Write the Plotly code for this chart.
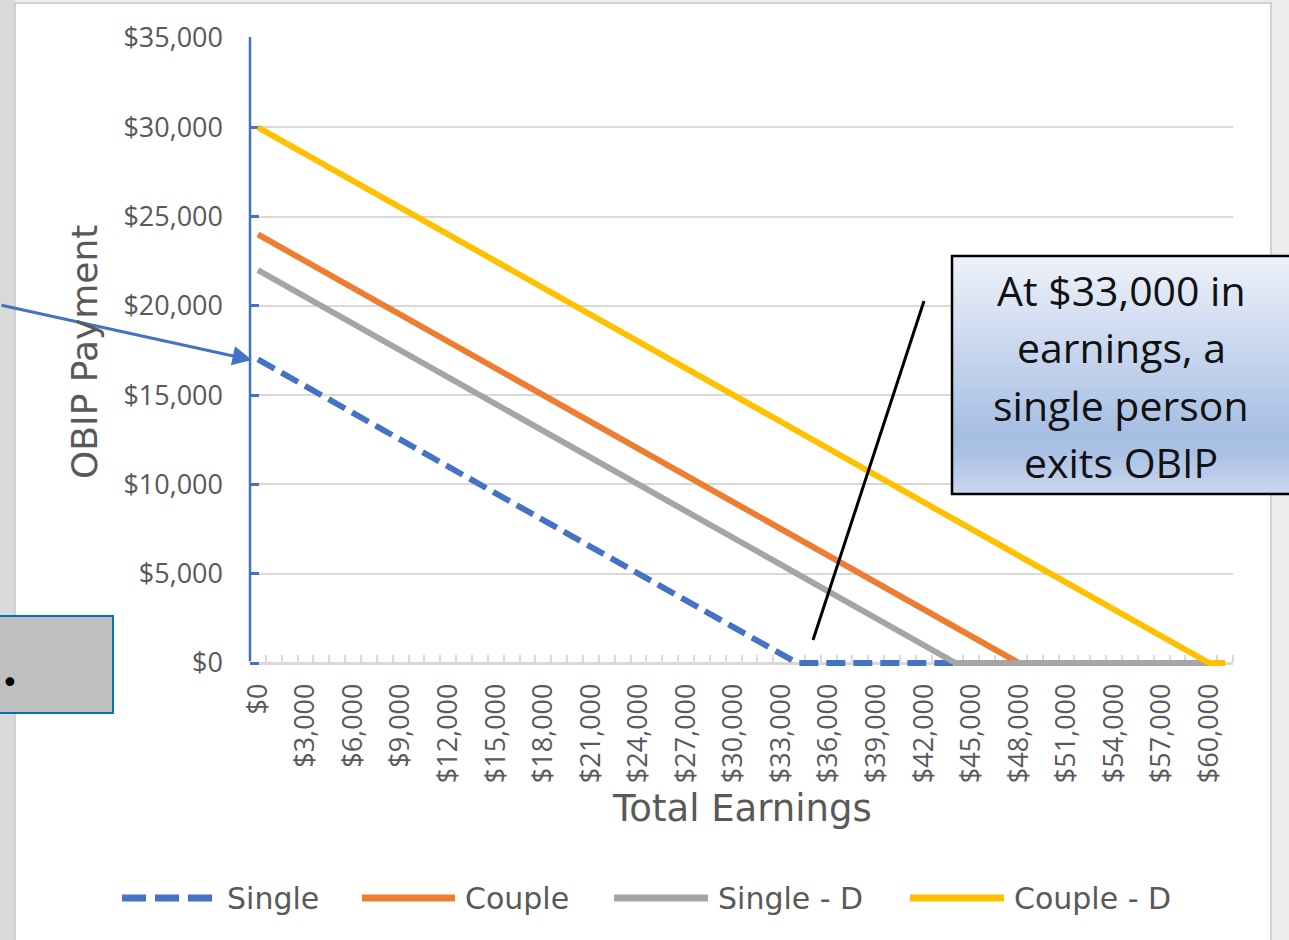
import plotly.graph_objects as go

# ---------------------------------------------------------------------------
# Data: OBIP payment by total earnings (earnings in $1,000 steps)
# ---------------------------------------------------------------------------
earnings = [
    0, 1000, 2000, 3000, 4000, 5000, 6000, 7000, 8000, 9000,
    10000, 11000, 12000, 13000, 14000, 15000, 16000, 17000, 18000, 19000,
    20000, 21000, 22000, 23000, 24000, 25000, 26000, 27000, 28000, 29000,
    30000, 31000, 32000, 33000, 34000, 35000, 36000, 37000, 38000, 39000,
    40000, 41000, 42000, 43000, 44000, 45000, 46000, 47000, 48000, 49000,
    50000, 51000, 52000, 53000, 54000, 55000, 56000, 57000, 58000, 59000,
    60000, 61000,
]

single = [
    17000, 16500, 16000, 15500, 15000, 14500, 14000, 13500, 13000, 12500,
    12000, 11500, 11000, 10500, 10000, 9500, 9000, 8500, 8000, 7500,
    7000, 6500, 6000, 5500, 5000, 4500, 4000, 3500, 3000, 2500,
    2000, 1500, 1000, 500, 0, 0, 0, 0, 0, 0,
    0, 0, 0, 0, 0, 0, 0, 0, 0, 0,
    0, 0, 0, 0, 0, 0, 0, 0, 0, 0,
    0, 0,
]

couple = [
    24000, 23500, 23000, 22500, 22000, 21500, 21000, 20500, 20000, 19500,
    19000, 18500, 18000, 17500, 17000, 16500, 16000, 15500, 15000, 14500,
    14000, 13500, 13000, 12500, 12000, 11500, 11000, 10500, 10000, 9500,
    9000, 8500, 8000, 7500, 7000, 6500, 6000, 5500, 5000, 4500,
    4000, 3500, 3000, 2500, 2000, 1500, 1000, 500, 0, 0,
    0, 0, 0, 0, 0, 0, 0, 0, 0, 0,
    0, 0,
]

single_d = [
    22000, 21500, 21000, 20500, 20000, 19500, 19000, 18500, 18000, 17500,
    17000, 16500, 16000, 15500, 15000, 14500, 14000, 13500, 13000, 12500,
    12000, 11500, 11000, 10500, 10000, 9500, 9000, 8500, 8000, 7500,
    7000, 6500, 6000, 5500, 5000, 4500, 4000, 3500, 3000, 2500,
    2000, 1500, 1000, 500, 0, 0, 0, 0, 0, 0,
    0, 0, 0, 0, 0, 0, 0, 0, 0, 0,
    0, 0,
]

couple_d = [
    30000, 29500, 29000, 28500, 28000, 27500, 27000, 26500, 26000, 25500,
    25000, 24500, 24000, 23500, 23000, 22500, 22000, 21500, 21000, 20500,
    20000, 19500, 19000, 18500, 18000, 17500, 17000, 16500, 16000, 15500,
    15000, 14500, 14000, 13500, 13000, 12500, 12000, 11500, 11000, 10500,
    10000, 9500, 9000, 8500, 8000, 7500, 7000, 6500, 6000, 5500,
    5000, 4500, 4000, 3500, 3000, 2500, 2000, 1500, 1000, 500,
    0, 0,
]

series_names = ["Single", "Couple", "Single - D", "Couple - D"]
series_values = [single, couple, single_d, couple_d]
series_colors = ["#4472C4", "#ED7D31", "#A5A5A5", "#FFC000"]
series_dashed = [True, False, False, False]

x_tick_values = [0, 3000, 6000, 9000, 12000, 15000, 18000, 21000, 24000, 27000,
                 30000, 33000, 36000, 39000, 42000, 45000, 48000, 51000, 54000,
                 57000, 60000]
x_tick_labels = ["$0", "$3,000", "$6,000", "$9,000", "$12,000", "$15,000",
                 "$18,000", "$21,000", "$24,000", "$27,000", "$30,000",
                 "$33,000", "$36,000", "$39,000", "$42,000", "$45,000",
                 "$48,000", "$51,000", "$54,000", "$57,000", "$60,000"]
y_tick_values = [0, 5000, 10000, 15000, 20000, 25000, 30000, 35000]
y_tick_labels = ["$0", "$5,000", "$10,000", "$15,000", "$20,000", "$25,000",
                 "$30,000", "$35,000"]

x_title = "Total Earnings"
y_title = "OBIP Payment"
callout_lines = ["At $33,000 in", "earnings, a", "single person", "exits OBIP"]

# ---------------------------------------------------------------------------
# Page geometry helpers (pixel -> paper fraction)
# ---------------------------------------------------------------------------
W, H = 1289, 940


def fx(p):
    return p / W


def fy(p):
    return 1 - p / H


PLOT_LEFT, PLOT_RIGHT = 250, 1233
Y_TOP_PX, Y_ZERO_PX = 38, 663
Y_MAX = 35000
Y_PAD = 180  # a little room below zero so lines lying on the axis are not clipped
y_bottom_px = Y_ZERO_PX + Y_PAD * (Y_ZERO_PX - Y_TOP_PX) / Y_MAX

AXIS_TEXT = "#595959"
ARIAL_LIKE = "DejaVu Sans"
TICK_FONT = dict(family="Open Sans", size=27, color=AXIS_TEXT)

fig = go.Figure()

for name, vals, color, dashed in zip(series_names, series_values, series_colors, series_dashed):
    fig.add_trace(go.Scatter(
        x=earnings, y=vals, name=name, mode="lines",
        line=dict(color=color, width=6, dash="19px,8px" if dashed else "solid"),
        showlegend=False, hoverinfo="skip",
    ))

shapes = []
annotations = []

# slide background strips and the white chart panel
shapes.append(dict(type="rect", xref="paper", yref="paper", layer="below",
                   x0=fx(0), x1=fx(15), y0=fy(-5), y1=fy(945),
                   fillcolor="#D9D9D9", line=dict(width=0)))
shapes.append(dict(type="rect", xref="paper", yref="paper", layer="below",
                   x0=fx(15), x1=fx(1271), y0=fy(3), y1=fy(950),
                   fillcolor="#FFFFFF", line=dict(color="#D0D0D0", width=2)))

# vertical value axis line
shapes.append(dict(type="line", xref="paper", yref="paper", layer="above",
                   x0=fx(PLOT_LEFT), x1=fx(PLOT_LEFT), y0=fy(Y_ZERO_PX - 2), y1=fy(Y_TOP_PX - 1),
                   line=dict(color="#4472C4", width=2.5)))

# partially visible text box on the left edge
shapes.append(dict(type="rect", xref="paper", yref="paper", layer="above",
                   x0=fx(-5), x1=fx(113), y0=fy(616), y1=fy(713),
                   fillcolor="#BFBFBF", line=dict(color="#0070C0", width=2)))
annotations.append(dict(xref="paper", yref="paper", x=fx(10), y=fy(682),
                        text="•", showarrow=False, xanchor="center", yanchor="middle",
                        font=dict(family="DejaVu Sans", size=30, color="#000000")))

# arrow pointing at the start of the Single series
annotations.append(dict(xref="paper", yref="paper", x=fx(252), y=fy(360),
                        ax=-252, ay=-55, axref="pixel", ayref="pixel",
                        text="", showarrow=True, arrowhead=2, arrowsize=1.3,
                        arrowwidth=3, arrowcolor="#4472C4", standoff=0))

# callout leader line
shapes.append(dict(type="line", xref="paper", yref="paper", layer="above",
                   x0=fx(924), y0=fy(301), x1=fx(813), y1=fy(640),
                   line=dict(color="#000000", width=3)))

# callout box with a vertical light-to-blue gradient
bx0, bx1, by0, by1 = 952, 1295, 256, 494
grad_stops = [(0.0, (238, 242, 250)), (0.74, (167, 191, 228)),
              (0.83, (170, 193, 229)), (1.0, (203, 215, 238))]


def grad_color(t):
    for (t0, c0), (t1, c1) in zip(grad_stops[:-1], grad_stops[1:]):
        if t <= t1:
            u = (t - t0) / (t1 - t0) if t1 > t0 else 0
            return "rgb(%d,%d,%d)" % tuple(round(a + (b - a) * u) for a, b in zip(c0, c1))
    return "rgb(%d,%d,%d)" % grad_stops[-1][1]


n_strips = 60
strip_h = (by1 - by0) / n_strips
for i in range(n_strips):
    t = (i + 0.5) / n_strips
    shapes.append(dict(type="rect", xref="paper", yref="paper", layer="above",
                       x0=fx(bx0), x1=fx(bx1),
                       y0=fy(by0 + i * strip_h), y1=fy(min(by1, by0 + (i + 1) * strip_h + 0.8)),
                       fillcolor=grad_color(t), line=dict(width=0)))
shapes.append(dict(type="rect", xref="paper", yref="paper", layer="above",
                   x0=fx(bx0), x1=fx(bx1), y0=fy(by0), y1=fy(by1),
                   fillcolor="rgba(0,0,0,0)", line=dict(color="#000000", width=2.5)))

line_centers = [290, 347, 405, 462]
for txt, yc in zip(callout_lines, line_centers):
    annotations.append(dict(xref="paper", yref="paper", x=fx(1121), y=fy(yc),
                            text=txt, showarrow=False, xanchor="center", yanchor="middle",
                            font=dict(family="Open Sans", size=41, color="#111111")))

# axis titles
annotations.append(dict(xref="paper", yref="paper", x=fx(84), y=fy(352),
                        text=y_title, textangle=-90, showarrow=False,
                        xanchor="center", yanchor="middle",
                        font=dict(family=ARIAL_LIKE, size=36, color=AXIS_TEXT)))
annotations.append(dict(xref="paper", yref="paper", x=fx(742), y=fy(808),
                        text=x_title, showarrow=False,
                        xanchor="center", yanchor="middle",
                        font=dict(family=ARIAL_LIKE, size=37, color=AXIS_TEXT)))

# legend drawn along the bottom
legend_y = 898
legend_items = [(122, 213, 225), (362, 455, 463), (614, 708, 716), (910, 1004, 1012)]
for (sx0, sx1, tx), name, color, dashed in zip(legend_items, series_names, series_colors, series_dashed):
    shapes.append(dict(type="line", xref="paper", yref="paper", layer="above",
                       x0=fx(sx0), x1=fx(sx1), y0=fy(legend_y), y1=fy(legend_y),
                       line=dict(color=color, width=7, dash="24px,9px" if dashed else "solid")))
    annotations.append(dict(xref="paper", yref="paper", x=fx(tx), y=fy(legend_y),
                            text=name, showarrow=False, xanchor="left", yanchor="middle",
                            font=dict(family=ARIAL_LIKE, size=30, color=AXIS_TEXT)))

fig.update_layout(
    width=W, height=H,
    margin=dict(l=0, r=0, t=0, b=0, pad=0),
    paper_bgcolor="#EDEDED",
    plot_bgcolor="rgba(0,0,0,0)",
    font=dict(family="Open Sans", color=AXIS_TEXT),
    showlegend=False,
    shapes=shapes,
    annotations=annotations,
    xaxis=dict(
        domain=[fx(PLOT_LEFT), fx(PLOT_RIGHT)],
        range=[-500, 61500],
        anchor="free", position=fy(Y_ZERO_PX),
        showgrid=False, zeroline=False,
        showline=True, linecolor="#D9D9D9", linewidth=2.5,
        tickmode="array", tickvals=x_tick_values, ticktext=x_tick_labels,
        ticks="", tickangle=-90,
        tickfont=TICK_FONT,
        ticklabelstandoff=8,
        minor=dict(tick0=-500, dtick=1000, ticks="inside", ticklen=7,
                   tickwidth=2, tickcolor="#D9D9D9", showgrid=False),
        layer="below traces", automargin=False, fixedrange=True,
    ),
    yaxis=dict(
        domain=[fy(y_bottom_px), fy(Y_TOP_PX)],
        range=[-Y_PAD, Y_MAX],
        showgrid=True, gridcolor="#D9D9D9", gridwidth=2,
        zeroline=False, showline=False,
        tickmode="array", tickvals=y_tick_values, ticktext=y_tick_labels,
        ticks="inside", ticklen=9, tickwidth=2.5, tickcolor="#4472C4",
        tickfont=TICK_FONT,
        ticklabelstandoff=26,
        layer="below traces", automargin=False, fixedrange=True,
    ),
)

fig.write_html("out.html")
